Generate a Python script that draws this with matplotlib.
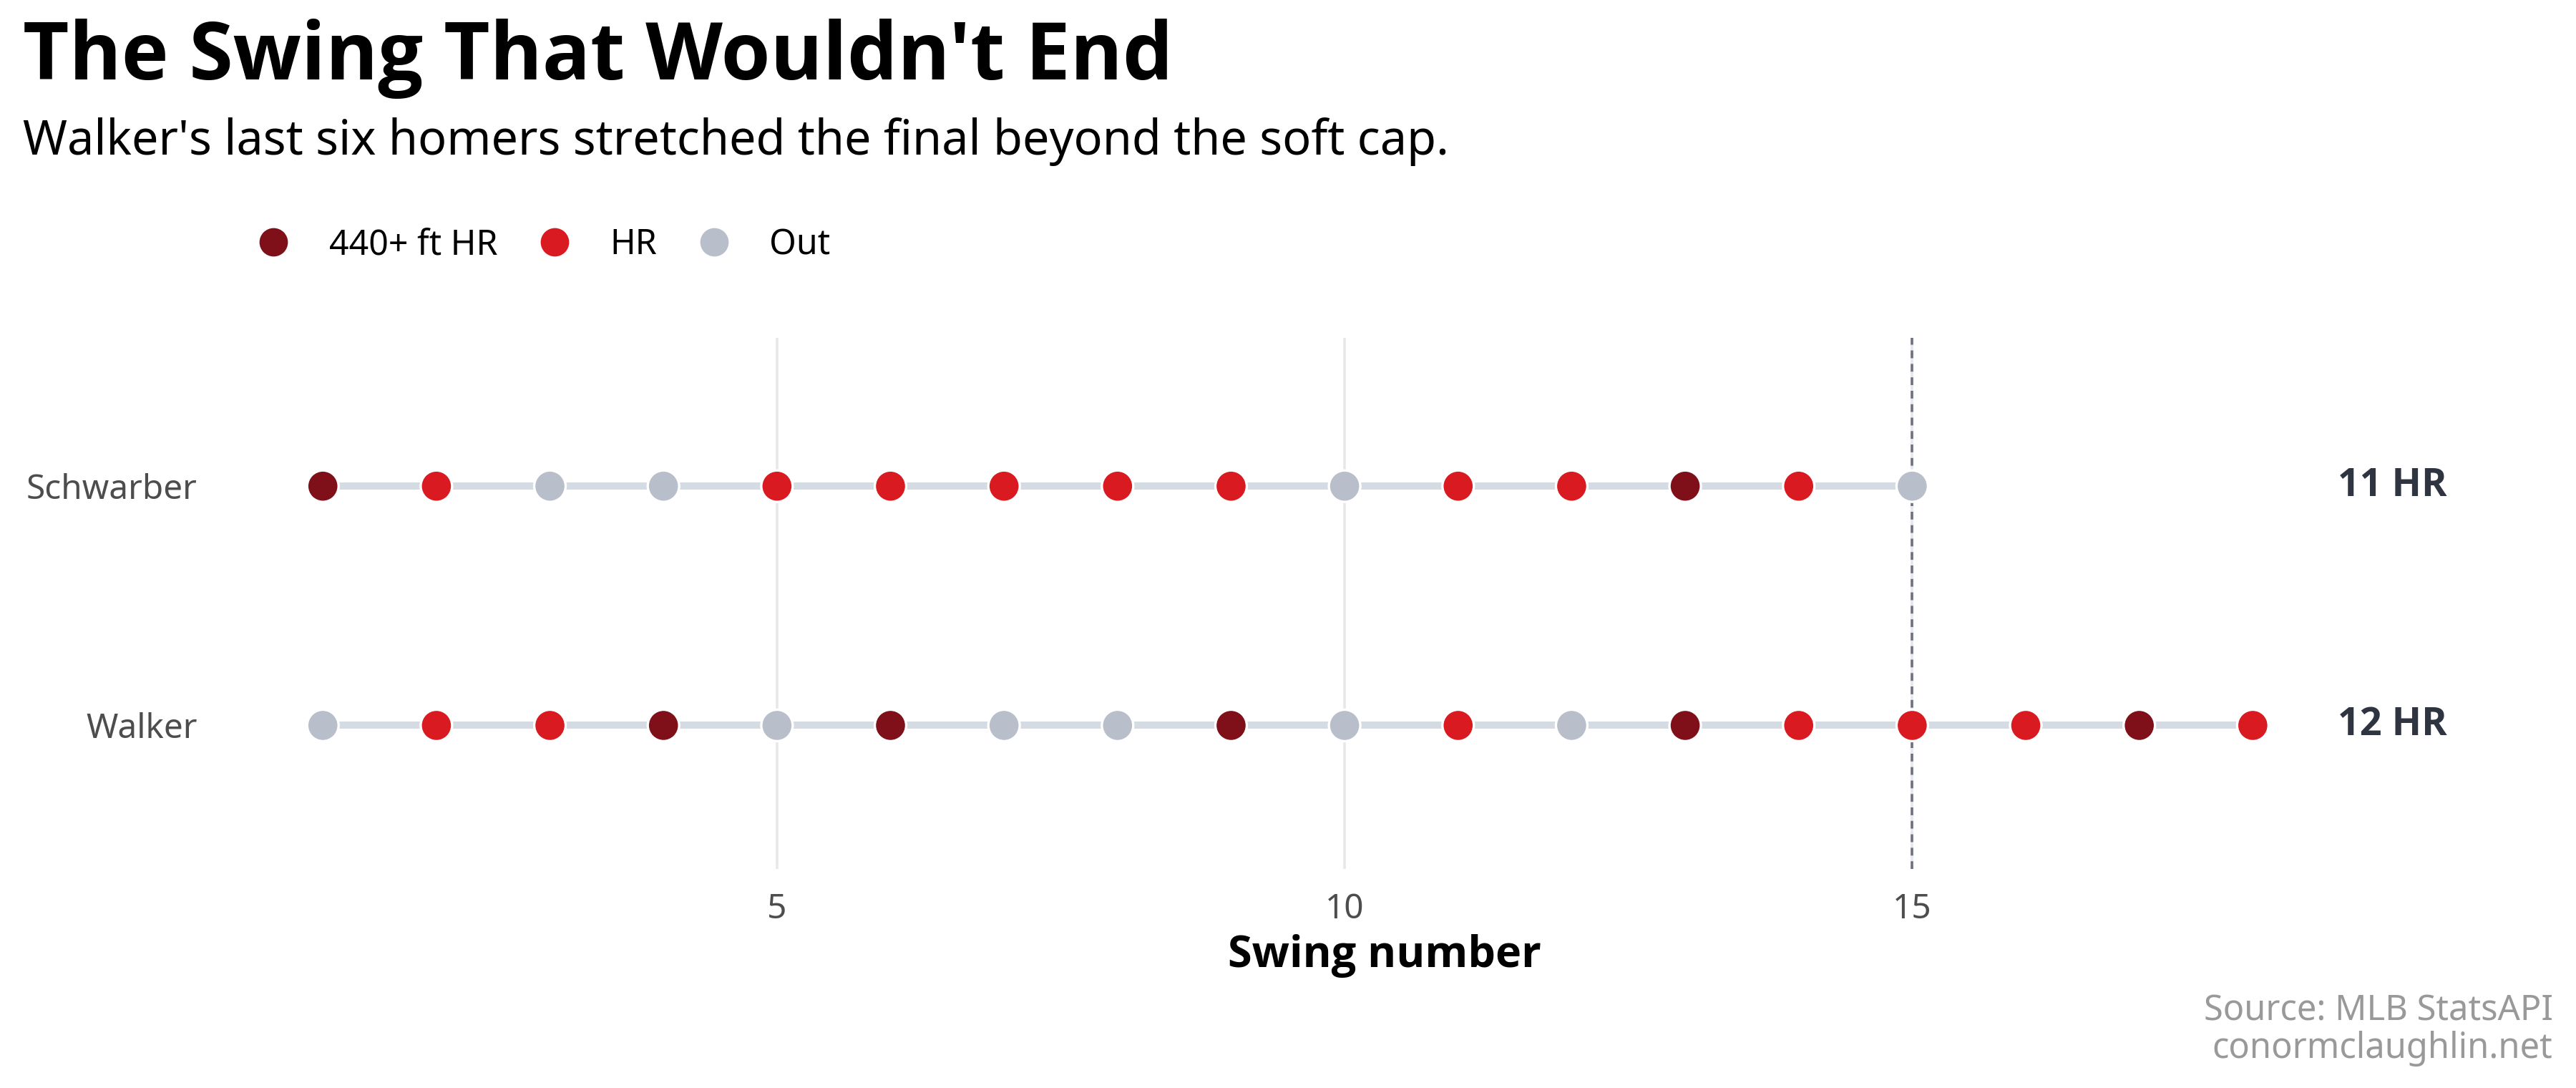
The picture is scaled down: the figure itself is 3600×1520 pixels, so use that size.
import matplotlib
matplotlib.use("Agg")
import matplotlib.pyplot as plt
from matplotlib.lines import Line2D

plt.rcParams['font.family'] = ['Noto Sans', 'DejaVu Sans']
BOLD = ['Open Sans', 'DejaVu Sans']  # Noto Sans has no bold weight here

# swing outcomes, in order (1 = first swing)
players = ['Walker', 'Schwarber']
schwarber = ['440', 'HR', 'Out', 'Out', 'HR', 'HR', 'HR', 'HR', 'HR', 'Out',
             'HR', 'HR', '440', 'HR', 'Out']
walker = ['Out', 'HR', 'HR', '440', 'Out', '440', 'Out', 'Out', '440', 'Out',
          'HR', 'Out', '440', 'HR', 'HR', 'HR', '440', 'HR']
hr_totals = ['12 HR', '11 HR']
soft_cap = 15

kinds = ['440', 'HR', 'Out']
kind_labels = ['440+ ft HR', 'HR', 'Out']
colors = {'440': '#7f1019', 'HR': '#d91a21', 'Out': '#b8bfca'}

fig = plt.figure(figsize=(18, 7.6), dpi=200)
ax = fig.add_axes([0.0989, 0.2013, 0.877, 0.4882])

for gx in [5, 10, 15]:
    ax.axvline(gx, color='#e8e8e8', lw=1.3, zorder=0)
ax.axvline(soft_cap, color='#6b7280', lw=1.3, ls=(0, (3, 2.2)), zorder=1)

for yi, seq in enumerate([walker, schwarber]):
    xs = list(range(1, len(seq) + 1))
    ax.plot(xs, [yi] * len(xs), color='#d5dbe2', lw=3.6, zorder=2,
            solid_capstyle='butt')
    ax.scatter(xs, [yi] * len(xs), s=250, c=[colors[k] for k in seq],
               edgecolors='white', linewidths=1.2, zorder=3)
    ax.text(18.75, yi, hr_totals[yi], ha='left', va='center', fontsize=19.5,
            fontweight='bold', family=BOLD, color='#2e3440')

ax.set_xlim(0.4, 20.3)
ax.set_ylim(-0.6, 1.62)
ax.set_yticks([0, 1])
ax.set_yticklabels(players, fontsize=17.2, color='#4d4d4d')
ax.set_xticks([5, 10, 15])
ax.set_xticklabels(['5', '10', '15'], fontsize=17.2, color='#4d4d4d')
ax.tick_params(length=0)
ax.tick_params(axis='y', pad=29)
ax.tick_params(axis='x', pad=12)
ax.set_xlabel('Swing number', fontsize=22, fontweight='bold', family=BOLD,
              labelpad=4)
for s in ax.spines.values():
    s.set_visible(False)

handles = [Line2D([0], [0], marker='o', ls='', markersize=15.5,
                  markerfacecolor=colors[k], markeredgecolor='white',
                  markeredgewidth=1.2) for k in kinds]
fig.legend(handles, kind_labels, loc='center left', bbox_to_anchor=(0.0995, 0.775),
           ncol=3, frameon=False, fontsize=17.4, handlelength=1.0,
           handletextpad=1.1, columnspacing=1.15, borderpad=0, borderaxespad=0)

fig.text(0.0089, 0.927, "The Swing That Wouldn't End", fontsize=40.1,
         fontweight='bold', family=BOLD, va='baseline', ha='left')
fig.text(0.0089, 0.858, "Walker's last six homers stretched the final beyond the soft cap.",
         fontsize=24, va='baseline', ha='left')
fig.text(0.991, 0.0625, 'Source: MLB StatsAPI', fontsize=17.6, color='#999999',
         ha='right', va='baseline')
fig.text(0.991, 0.0276, 'conormclaughlin.net', fontsize=17.6, color='#999999',
         ha='right', va='baseline')

fig.savefig('out.png', dpi=200, facecolor='white')
